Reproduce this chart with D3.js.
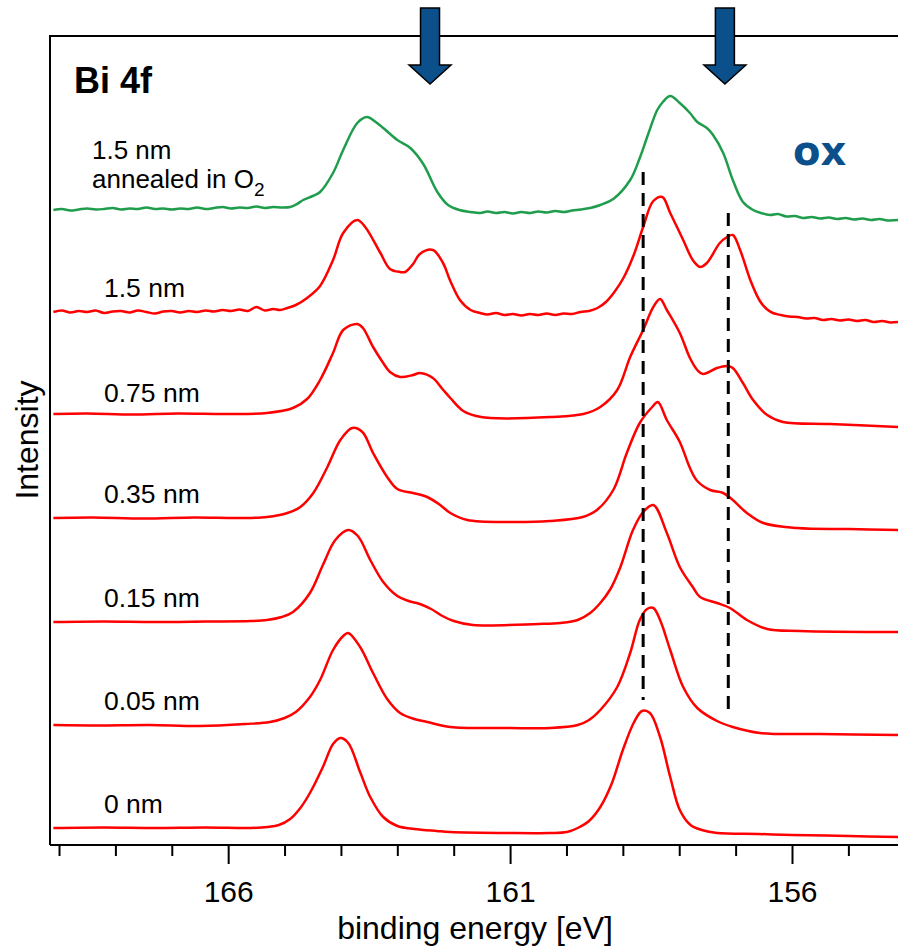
<!DOCTYPE html>
<html>
<head>
<meta charset="utf-8">
<script src="https://cdn.jsdelivr.net/npm/d3@7"></script>
<style>
  body { margin: 0; background: #fff; }
  svg { display: block; font-family: "Liberation Sans", Arial, sans-serif; }
</style>
</head>
<body>
<svg class="chart" width="898" height="948"></svg>
<script>
// spectra: [binding energy eV, intensity above own baseline]
const spec0 = [
  [169.1, 0], [168.2, 0.5], [167.3, 0], [166.4, 0.5], [165.6, 0], [165.3, 1], [165.1, 3], [164.9, 9],
  [164.72, 20], [164.55, 35], [164.32, 61], [164.14, 84], [164.01, 90], [163.87, 85], [163.66, 56],
  [163.48, 31], [163.25, 11], [163.0, 2], [162.7, -1], [162.3, -3], [162.06, -4], [161.0, -5], [160.3, -5],
  [159.99, -4], [159.8, 0], [159.6, 7], [159.4, 21], [159.2, 44], [159.0, 78], [158.8, 106],
  [158.66, 117], [158.52, 115], [158.34, 91], [158.16, 51], [157.99, 18], [157.8, 3], [157.6, -2],
  [157.33, -5], [156.6, -6], [156.0, -7], [155.0, -8], [154.1, -9]
];
const spec005 = [
  [169.1, 0], [168.3, -0.5], [167.4, 0], [166.5, -1], [165.7, 1], [165.26, 3], [165.0, 7], [164.8, 13],
  [164.55, 28], [164.37, 45], [164.14, 75], [163.96, 89], [163.87, 92], [163.66, 78], [163.43, 52],
  [163.18, 26], [162.95, 12], [162.7, 6], [162.47, 3], [162.06, -2], [161.0, -3], [160.29, -3],
  [159.8, 0], [159.6, 5], [159.4, 15], [159.1, 38], [158.87, 72], [158.7, 105], [158.57, 116], [158.46, 117],
  [158.34, 105], [158.16, 75], [157.93, 38], [157.68, 17], [157.33, 4], [157.05, -2], [156.57, -8],
  [155.5, -9], [154.1, -10]
];
const spec015 = [
  [169.1, 0], [168.2, 0.5], [167.3, 0], [166.4, 0.5], [165.6, 1], [165.31, 2], [165.05, 5], [164.85, 10],
  [164.55, 29], [164.32, 57], [164.1, 82], [163.87, 92], [163.7, 86], [163.48, 62], [163.25, 40],
  [163.0, 26], [162.8, 21], [162.6, 18], [162.4, 13], [162.2, 6], [162.0, 1], [161.66, -3], [160.5, -2],
  [160.11, -1], [159.8, 2], [159.58, 9], [159.4, 19], [159.22, 33], [159.05, 54], [158.82, 92], [158.64, 110],
  [158.46, 117], [158.22, 89], [157.99, 55], [157.76, 35], [157.63, 25], [157.33, 19], [157.1, 14],
  [156.8, 2], [156.44, -7], [155.86, -9], [154.1, -10]
];
const spec035 = [
  [169.1, 0], [168.4, 0.5], [167.5, -0.5], [166.6, 0.5], [165.8, 0], [165.31, 1], [164.95, 5],
  [164.72, 11], [164.49, 25], [164.24, 51], [164.01, 78], [163.8, 90], [163.62, 86], [163.43, 65],
  [163.18, 41], [163.0, 29], [162.72, 25], [162.47, 21], [162.24, 13], [162.06, 5], [161.76, -2],
  [161.0, -4], [160.3, -3], [159.71, 1], [159.46, 8], [159.17, 28], [158.93, 65], [158.7, 95],
  [158.48, 111], [158.38, 116], [158.22, 98], [157.99, 76], [157.81, 50], [157.68, 37], [157.45, 28],
  [157.22, 25], [157.05, 18], [156.8, 5], [156.51, -5], [155.91, -10], [155.0, -11], [154.1, -12]
];
const spec075 = [
  [169.1, 0], [168.5, 0.5], [167.7, -0.5], [166.9, 0.5], [166.0, 0], [165.31, 1], [164.85, 6],
  [164.6, 15], [164.37, 34], [164.14, 61], [163.96, 84], [163.71, 90], [163.61, 86], [163.43, 67],
  [163.25, 51], [163.13, 42], [162.95, 37], [162.72, 39], [162.6, 41], [162.37, 36], [162.2, 25],
  [162.06, 16], [161.83, 3], [161.6, -2], [161.35, -4], [160.29, -3], [159.7, 0], [159.4, 7], [159.1, 24],
  [158.87, 57], [158.64, 84], [158.46, 107], [158.34, 115], [158.22, 104], [157.99, 81], [157.81, 56],
  [157.68, 44], [157.58, 40], [157.33, 46], [157.15, 48], [157.05, 46], [156.87, 31], [156.69, 14],
  [156.44, -1], [156.16, -8], [155.33, -10], [154.1, -13]
];
const spec15 = [
  [169.1, 0], [168.95, 1.5], [168.8, -0.5], [168.65, 1], [168.5, 0], [168.35, 1.5], [168.2, -1],
  [168.05, 0.5], [167.9, 1], [167.75, -0.5], [167.6, 1.5], [167.45, 0], [167.3, -1.5], [167.15, 0.5],
  [167.0, 1], [166.85, -0.5], [166.7, 1], [166.55, 0], [166.4, 1.5], [166.25, 0.5], [166.1, 2],
  [165.95, 1], [165.8, 2.5], [165.65, 1], [165.5, 5], [165.35, 1.5], [165.2, 3], [165.08, 2],
  [164.95, 4], [164.8, 7], [164.6, 14], [164.37, 26], [164.14, 52], [163.96, 79], [163.71, 92],
  [163.57, 85], [163.3, 59], [163.13, 43], [162.95, 40], [162.86, 40], [162.72, 48], [162.6, 58],
  [162.37, 62], [162.19, 49], [162.06, 31], [161.89, 12], [161.7, 2], [161.53, -1], [161.4, -2.5],
  [161.25, -1], [161.1, -3], [160.95, -2], [160.8, -3.5], [160.65, -2], [160.5, -3], [160.35, -1.5],
  [160.2, -3], [160.05, -1.5], [159.9, -2], [159.75, 0], [159.6, 1], [159.45, 4], [159.3, 10],
  [159.15, 20], [158.99, 34], [158.8, 58], [158.64, 85], [158.46, 111], [158.3, 115], [158.16, 99],
  [157.93, 72], [157.76, 52], [157.63, 45], [157.51, 49], [157.28, 69], [157.15, 75], [157.05, 77],
  [156.92, 62], [156.74, 32], [156.57, 11], [156.45, 3], [156.34, -1], [156.2, -3], [156.05, -4.5],
  [155.9, -5], [155.75, -6.5], [155.6, -6], [155.45, -8], [155.3, -7], [155.15, -8.5], [155.0, -7.5],
  [154.85, -9], [154.7, -8], [154.55, -10], [154.4, -9], [154.25, -10.5], [154.1, -10]
];
const specO2 = [
  [169.1, 0], [168.95, 1], [168.8, -0.5], [168.65, 0.5], [168.5, 1.5], [168.35, 0.5], [168.2, 1],
  [168.05, 2], [167.9, 0.5], [167.75, 1.5], [167.6, 1], [167.45, 2.5], [167.3, 1], [167.15, 1.5],
  [167.0, 0.5], [166.85, 1.5], [166.7, 1], [166.55, 2.5], [166.4, 1], [166.25, 2], [166.1, 3],
  [165.95, 1.5], [165.8, 2.5], [165.65, 2], [165.5, 3.5], [165.35, 2], [165.2, 3], [165.05, 2.5],
  [164.9, 3], [164.78, 6], [164.67, 10], [164.5, 14], [164.37, 18], [164.14, 37], [163.96, 60],
  [163.71, 87], [163.54, 93], [163.36, 87], [163.25, 82], [163.0, 70], [162.77, 62], [162.54, 46],
  [162.29, 18], [162.1, 5], [161.9, 0], [161.7, -2], [161.53, -3], [161.4, -1.5], [161.25, -3],
  [161.1, -2], [160.95, -3.5], [160.8, -2], [160.65, -3], [160.5, -1.5], [160.35, -2.5], [160.2, -1],
  [160.05, -2], [159.9, -0.5], [159.75, 0.5], [159.58, 2], [159.4, 5], [159.17, 11], [158.87, 30],
  [158.7, 52], [158.55, 76], [158.39, 100], [158.29, 108], [158.16, 114], [157.99, 107], [157.81, 97], [157.68, 88],
  [157.51, 82], [157.4, 75], [157.22, 57], [157.05, 30], [156.87, 8], [156.69, 0], [156.55, -3],
  [156.39, -5], [156.25, -4], [156.1, -6.5], [155.95, -6], [155.8, -8], [155.65, -7], [155.5, -8.5],
  [155.35, -7.5], [155.2, -9], [155.05, -8], [154.9, -9.5], [154.75, -8.5], [154.6, -10],
  [154.45, -9], [154.3, -10.5], [154.1, -10]
];

const spectra = [spec0, spec005, spec015, spec035, spec075, spec15, specO2];
const offsets = [17, 120, 223, 327, 431, 533, 635];
const colors = ['#ff0000', '#ff0000', '#ff0000', '#ff0000', '#ff0000', '#ff0000', '#1f9d4c'];
const labels = ['0 nm', '0.05 nm', '0.15 nm', '0.35 nm', '0.75 nm', '1.5 nm'];
const energyTicks = d3.range(169, 154.5, -1);
const majorTicks = [166, 161, 156];
const dashEnergies = [158.64, 157.13];
const arrowEnergies = [162.42, 157.19];

const chart = d3.select('.chart');
const width = +chart.attr('width');

const padLeft = 50, padTop = 36, axisY = 845;
const x = d3.scaleLinear().domain([169.16, 154.12]).range([padLeft, width]);
const y = d3.scaleLinear().domain([0, axisY - padTop]).range([axisY, padTop]);

// frame (right edge is off canvas)
chart.append('path')
  .attr('d', `M${width + 5},${padTop}H${padLeft}V${axisY}`)
  .attr('fill', 'none').attr('stroke', '#000').attr('stroke-width', 2);

// minor ticks
chart.append('g')
  .attr('transform', `translate(0,${axisY})`)
  .call(d3.axisBottom(x).tickValues(energyTicks.filter(t => !majorTicks.includes(t)))
    .tickSize(11).tickSizeOuter(0).tickFormat(''))
  .call(g => g.select('.domain').remove())
  .call(g => g.selectAll('line').attr('stroke-width', 2));

// major ticks + labels
chart.append('g')
  .attr('transform', `translate(0,${axisY})`)
  .call(d3.axisBottom(x).tickValues(majorTicks).tickSize(19).tickSizeOuter(0).tickPadding(17))
  .call(g => g.select('.domain').attr('stroke-width', 2).attr('d', `M${padLeft},0H${width + 5}`))
  .call(g => g.selectAll('line').attr('stroke-width', 2))
  .call(g => g.selectAll('text').attr('font-size', 30).attr('fill', '#000')
    .attr('font-family', '"Liberation Sans", Arial, sans-serif'));

const line = d3.line()
  .x(d => x(d[0]))
  .curve(d3.curveCatmullRom.alpha(0.5));

spectra.forEach((s, i) => {
  chart.append('path')
    .attr('d', line.y(d => y(d[1] + offsets[i]))(s))
    .attr('fill', 'none')
    .attr('stroke', colors[i])
    .attr('stroke-width', 2.5)
    .attr('stroke-linejoin', 'round');
});

// dashed guides
const dashTop = [673, 632];
const dashBot = [145, 130];
dashEnergies.forEach((e, i) => {
  chart.append('line')
    .attr('x1', x(e)).attr('x2', x(e))
    .attr('y1', y(dashTop[i])).attr('y2', y(dashBot[i]))
    .attr('stroke', '#000').attr('stroke-width', 3)
    .attr('stroke-dasharray', '13,8');
});

// arrows
arrowEnergies.forEach(e => {
  const cx = x(e);
  chart.append('path')
    .attr('d', `M${cx - 9.5},8H${cx + 9.5}V65H${cx + 21}L${cx},84L${cx - 21},65H${cx - 9.5}Z`)
    .attr('fill', '#0b4f8b').attr('stroke', '#000').attr('stroke-width', 1.5);
});

// texts
chart.append('text').attr('x', 74).attr('y', 93)
  .attr('font-size', 36).attr('font-weight', 'bold').text('Bi 4f');

chart.append('text').attr('x', 793).attr('y', 165)
  .attr('font-family', '"DejaVu Sans", Verdana, sans-serif')
  .attr('font-size', 40).attr('font-weight', 'bold').attr('fill', '#0b4f8b').text('ox');

const labelY = [813, 710, 607, 503, 402, 297];
labels.forEach((t, i) => {
  chart.append('text').attr('x', 104).attr('y', labelY[i]).attr('font-size', 26.5).text(t);
});

chart.append('text').attr('x', 92).attr('y', 159).attr('font-size', 26).text('1.5 nm');
const o2 = chart.append('text').attr('x', 92).attr('y', 188).attr('font-size', 26);
o2.append('tspan').text('annealed in O');
o2.append('tspan').attr('font-size', 19).attr('dy', 8).text('2');

chart.append('text')
  .attr('transform', 'translate(38,440) rotate(-90)')
  .attr('text-anchor', 'middle').attr('font-size', 32).text('Intensity');

chart.append('text').attr('x', 475).attr('y', 939)
  .attr('text-anchor', 'middle').attr('font-size', 32).text('binding energy [eV]');
</script>
</body>
</html>
